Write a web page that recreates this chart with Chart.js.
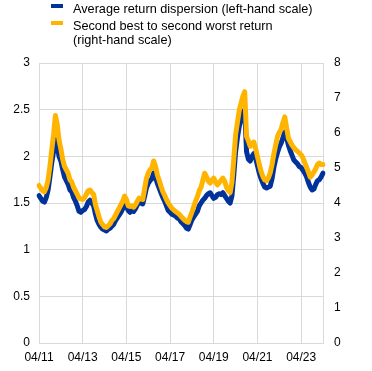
<!DOCTYPE html>
<html>
<head>
<meta charset="utf-8">
<script src="https://cdn.jsdelivr.net/npm/chart.js@4"></script>
<style>
  body { margin: 0; background: #fff; }
  #wrap { position: relative; width: 372px; height: 371px; font-family: "Liberation Sans", Arial, sans-serif; }
  #chart { position: absolute; left: 0; top: 0; }
  .leg { position: absolute; left: 73px; font-size: 12.7px; line-height: 14px; color: #000; }
  .mark { position: absolute; left: 51px; width: 12px; height: 4px; }
</style>
</head>
<body>
<div id="wrap">
  <canvas id="chart" width="372" height="371"></canvas>
  <div class="mark" style="top:4px;background:#003299"></div>
  <div class="leg" style="top:2px">Average return dispersion (left-hand scale)</div>
  <div class="mark" style="top:21px;background:#ffb400"></div>
  <div class="leg" style="top:19px">Second best to second worst return<br>(right-hand scale)</div>
</div>
<script>
// monthly, Apr 2011 - Apr 2024
var months = [];
for (var y = 2011; y <= 2024; y++) {
  for (var m = 1; m <= 12; m++) {
    if (y === 2011 && m < 4) continue;
    if (y === 2024 && m > 4) continue;
    months.push(y + "-" + (m < 10 ? "0" + m : m));
  }
}

var dispersion = [
  1.58, 1.55, 1.52, 1.51, 1.56, 1.64, 1.78, 1.93, 2.05, 2.18, 2.12, 2.00,
  1.95, 1.86, 1.78, 1.74, 1.70, 1.64, 1.62, 1.56, 1.52, 1.47, 1.41, 1.40,
  1.42, 1.43, 1.46, 1.51, 1.53, 1.50, 1.47, 1.38, 1.31, 1.27, 1.24, 1.22,
  1.21, 1.20, 1.22, 1.23, 1.25, 1.27, 1.31, 1.34, 1.37, 1.40, 1.44, 1.50,
  1.46, 1.42, 1.40, 1.43, 1.41, 1.44, 1.48, 1.51, 1.50, 1.49, 1.57, 1.66,
  1.71, 1.74, 1.76, 1.82, 1.78, 1.71, 1.66, 1.61, 1.56, 1.52, 1.47, 1.42,
  1.40, 1.38, 1.37, 1.36, 1.34, 1.33, 1.30, 1.28, 1.26, 1.23, 1.22, 1.27,
  1.32, 1.35, 1.38, 1.41, 1.47, 1.50, 1.53, 1.55, 1.58, 1.60, 1.61, 1.58,
  1.55, 1.56, 1.59, 1.60, 1.59, 1.61, 1.58, 1.55, 1.52, 1.50, 1.58, 1.80,
  2.05, 2.20, 2.32, 2.40, 2.47, 2.50, 2.05, 1.97, 1.95, 2.00, 2.03, 1.98,
  1.90, 1.82, 1.76, 1.71, 1.67, 1.66, 1.67, 1.68, 1.76, 1.88, 1.97, 2.04,
  2.10, 2.14, 2.20, 2.26, 2.20, 2.12, 2.06, 2.01, 1.96, 1.94, 1.92, 1.89,
  1.88, 1.85, 1.82, 1.78, 1.72, 1.67, 1.64, 1.65, 1.70, 1.74, 1.75, 1.78,
  1.82
];

var secondBest = [
  4.50, 4.42, 4.35, 4.32, 4.45, 4.66, 5.05, 5.51, 5.95, 6.50, 6.25, 5.80,
  5.55, 5.25, 5.05, 4.95, 4.85, 4.66, 4.60, 4.45, 4.35, 4.25, 4.14, 4.12,
  4.10, 4.15, 4.25, 4.35, 4.37, 4.30, 4.25, 3.95, 3.78, 3.60, 3.45, 3.38,
  3.32, 3.30, 3.35, 3.40, 3.50, 3.55, 3.65, 3.75, 3.85, 3.95, 4.05, 4.20,
  4.10, 3.92, 3.90, 3.92, 3.88, 3.95, 4.05, 4.14, 4.12, 4.10, 4.40, 4.70,
  4.86, 4.95, 5.00, 5.20, 5.05, 4.80, 4.65, 4.48, 4.33, 4.22, 4.10, 4.00,
  3.92, 3.85, 3.80, 3.76, 3.72, 3.68, 3.62, 3.56, 3.51, 3.47, 3.45, 3.60,
  3.74, 3.90, 4.05, 4.18, 4.35, 4.45, 4.65, 4.85, 4.75, 4.62, 4.57, 4.65,
  4.71, 4.60, 4.52, 4.58, 4.65, 4.71, 4.62, 4.45, 4.35, 4.30, 4.60, 5.25,
  5.95, 6.30, 6.65, 6.85, 7.05, 7.18, 5.90, 5.78, 5.62, 5.70, 5.74, 5.55,
  5.32, 5.10, 4.90, 4.75, 4.66, 4.64, 4.72, 4.86, 5.10, 5.40, 5.65, 5.90,
  6.02, 6.10, 6.30, 6.46, 6.15, 5.85, 5.75, 5.65, 5.58, 5.52, 5.48, 5.43,
  5.38, 5.28, 5.15, 5.02, 4.88, 4.74, 4.80, 4.88, 4.98, 5.10, 5.14, 5.10,
  5.10
];

var tickFont = { family: "'Liberation Sans', Arial, sans-serif", size: 12 };
var gridColor = "#d9d9d9";

new Chart(document.getElementById("chart"), {
  type: "line",
  data: {
    labels: months,
    datasets: [
      {
        label: "Average return dispersion (left-hand scale)",
        data: dispersion,
        borderColor: "#003299",
        borderWidth: 5,
        borderJoinStyle: "round",
        borderCapStyle: "round",
        pointRadius: 0,
        yAxisID: "y",
        order: 1
      },
      {
        label: "Second best to second worst return (right-hand scale)",
        data: secondBest,
        borderColor: "#ffb400",
        borderWidth: 5,
        borderJoinStyle: "round",
        borderCapStyle: "round",
        pointRadius: 0,
        yAxisID: "y2",
        order: 0
      }
    ]
  },
  options: {
    responsive: false,
    animation: false,
    layout: { padding: { top: 63, left: 0, right: 0, bottom: 0 } },
    plugins: { legend: { display: false }, tooltip: { enabled: false } },
    scales: {
      x: {
        offset: false,
        grid: { display: true, color: gridColor, lineWidth: 1, drawTicks: false },
        border: { display: false },
        ticks: {
          autoSkip: false,
          maxRotation: 0,
          padding: 7,
          color: "#000",
          font: tickFont,
          callback: function (v, i) {
            if (i % 24 !== 0) return null;
            var s = months[i];
            return s.slice(5) + "/" + s.slice(2, 4);
          }
        },
        afterFit: function (s) { s.height = 28; }
      },
      y: {
        position: "left",
        min: 0,
        max: 3,
        grid: { display: true, color: gridColor, lineWidth: 1, drawTicks: false },
        border: { display: false },
        ticks: {
          stepSize: 0.5,
          padding: 9,
          color: "#000",
          font: tickFont,
          callback: function (v) { return String(+v.toFixed(1)); }
        },
        afterFit: function (s) { s.width = 39; }
      },
      y2: {
        position: "right",
        min: 0,
        max: 8,
        grid: { display: false, drawTicks: false },
        border: { display: true, color: gridColor },
        ticks: { stepSize: 1, padding: 11, color: "#000", font: tickFont },
        afterFit: function (s) { s.width = 49; }
      }
    }
  }
});
</script>
</body>
</html>
